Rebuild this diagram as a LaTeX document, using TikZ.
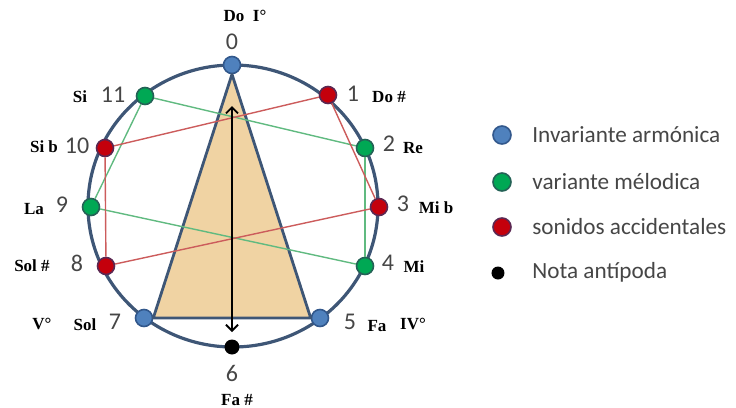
\documentclass[tikz,border=0pt]{standalone}
\usepackage{fontspec}
\setmainfont{Carlito}
\newfontfamily\notefont{Liberation Serif}
\usetikzlibrary{arrows.meta}

\definecolor{RingBlue}{RGB}{62,86,118}
\definecolor{InvBlue}{RGB}{79,129,189}
\definecolor{InvBlueDark}{RGB}{50,88,140}
\definecolor{VarGreen}{RGB}{0,168,84}
\definecolor{VarGreenDark}{RGB}{36,98,86}
\definecolor{AccRed}{RGB}{196,0,12}
\definecolor{AccRedDark}{RGB}{92,40,82}
\definecolor{LineGreen}{RGB}{96,186,128}
\definecolor{LineRed}{RGB}{204,92,92}
\definecolor{Papyrus}{RGB}{240,211,163}
\definecolor{NumGrey}{RGB}{70,70,70}

\begin{document}
\begin{tikzpicture}[x=0.5pt,y=-0.5pt,
    inv/.style={circle, draw=InvBlueDark, fill=InvBlue, line width=0.8pt, minimum size=8.5pt, inner sep=0pt},
    var/.style={circle, draw=VarGreenDark, fill=VarGreen, line width=0.8pt, minimum size=8.5pt, inner sep=0pt},
    acc/.style={circle, draw=AccRedDark, fill=AccRed, line width=0.8pt, minimum size=8.5pt, inner sep=0pt},
    anti/.style={circle, fill=black, minimum size=7.5pt, inner sep=0pt},
    num/.style={font=\fontsize{12}{12}\selectfont, text=NumGrey, inner sep=0pt},
    notename/.style={font=\notefont\bfseries\fontsize{8.5}{8.5}\selectfont, inner sep=0pt},
    legtext/.style={font=\fontsize{11.6}{12}\selectfont, text=NumGrey, anchor=west, inner sep=0pt},
    glink/.style={LineGreen, line width=0.7pt},
    rlink/.style={LineRed, line width=0.7pt}]
    \useasboundingbox (0,0) rectangle (736,408);

    % Ring
    \draw[RingBlue, line width=1.6pt] (233,206) ellipse [x radius=145, y radius=141];

    % Notes on the ring
    \node[inv] (n0) at (232,65) {};
    \node[acc] (n1) at (328,95) {};
    \node[var] (n2) at (365,148) {};
    \node[acc] (n3) at (379,207) {};
    \node[var] (n4) at (365,266) {};
    \node[inv] (n5) at (320,318) {};
    \node[anti] (n6) at (232,347) {};
    \node[inv] (n7) at (144,318) {};
    \node[acc] (n8) at (106,266) {};
    \node[var] (n9) at (91,207) {};
    \node[acc] (n10) at (105,148) {};
    \node[var] (n11) at (145,96) {};

    % Triangle
    \filldraw[fill=Papyrus, draw=RingBlue, line width=1.4pt, line join=round]
        (n0.south) -- (n7.east) -- (n5.west) -- cycle;

    % Links
    \draw[glink] (n11) -- (n2);
    \draw[glink] (n11) -- (n9);
    \draw[glink] (n2) -- (n4);
    \draw[glink] (n9) -- (n4);
    \draw[rlink] (n1) -- (n10);
    \draw[rlink] (n1) -- (n3);
    \draw[rlink] (n10) -- (n8);
    \draw[rlink] (n8) -- (n3);

    % Axis arrow
    \coordinate (up) at (232,106);
    \coordinate (down) at (232,332);
    \draw[<->, >={Straight Barb[length=3pt,width=6pt]}, line width=0.9pt] (down) -- (up);

    % Numbers
    \node[num] (d0) at (232,42) {0};
    \node[num] (d1) at (353,94) {1};
    \node[num] (d2) at (389,144) {2};
    \node[num] (d3) at (403,204) {3};
    \node[num] (d4) at (388,263) {4};
    \node[num] (d5) at (350,322) {5};
    \node[num] (d6) at (232,373) {6};
    \node[num] (d7) at (115,322) {7};
    \node[num] (d8) at (77,263) {8};
    \node[num] (d9) at (62,205) {9};
    \node[num] (d10) at (77,146) {10};
    \node[num] (d11) at (113,95) {11};

    % Note names
    \node[notename] (l0) at (245,16) {Do\enspace I°};
    \node[notename] (l1) at (389,97) {Do \#};
    \node[notename] (l2) at (413,148) {Re};
    \node[notename] (l3) at (436,208) {Mi b};
    \node[notename] (l4) at (414,267) {Mi};
    \node[notename] (l5) at (377,326) {Fa};
    \node[notename] (g5) at (413,324) {IV°};
    \node[notename] (l6) at (237,400) {Fa \#};
    \node[notename] (l7) at (85,325) {Sol};
    \node[notename] (g7) at (42,324) {V°};
    \node[notename] (l8) at (32,266) {Sol \#};
    \node[notename] (l9) at (34,209) {La};
    \node[notename] (l10) at (44,147) {Si b};
    \node[notename] (l11) at (80,97) {Si};

    % Legend
    \node[inv, minimum size=9pt] (k1) at (502,135) {};
    \node[var, minimum size=9pt] (k2) at (502,182) {};
    \node[acc, minimum size=9pt] (k3) at (502,227) {};
    \node[anti, minimum size=6.5pt] (k4) at (498,273) {};
    \node[legtext] (t1) at (532,135) {Invariante armónica};
    \node[legtext] (t2) at (532,182) {variante mélodica};
    \node[legtext] (t3) at (532,227) {sonidos accidentales};
    \node[legtext] (t4) at (532,272) {Nota antípoda};
\end{tikzpicture}
\end{document}
